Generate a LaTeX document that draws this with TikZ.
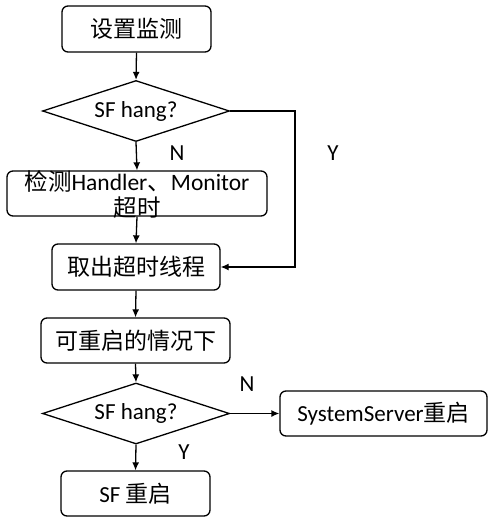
\documentclass[tikz,border=0pt]{standalone}
\usepackage{fontspec}
\setmainfont{Carlito}
\newfontfamily\cjk{Noto Sans CJK SC}
\usetikzlibrary{shapes.geometric,arrows.meta}
\begin{document}
\begin{tikzpicture}[x=1pt,y=-1pt,
  every node/.style={font=\fontsize{23}{28}\selectfont, inner sep=0pt},
  box/.style={draw, rounded corners=6pt, line width=1.3pt},
  dec/.style={draw, diamond, shape aspect=3, line width=1.3pt, minimum width=187pt, minimum height=61pt},
  arr/.style={line width=1.3pt, -{Latex[length=8pt,width=7pt]}},
  lab/.style={font=\fontsize{23}{28}\selectfont}]
\useasboundingbox (0,0) rectangle (494,521);
\node[box, minimum width=149pt, minimum height=46pt] (b1) at (136.5,29) {\cjk 设置监测};
\node[dec] (d1) at (136,111) {SF hang?};
\node[box, minimum width=260pt, minimum height=45pt,
  label={[align=center, font=\fontsize{23.5}{26}\selectfont, yshift=-1pt]center:{\cjk 检测}Handler{\cjk 、}Monitor\\{\cjk 超时}}] (b2) at (137,193.5) {};
\node[box, minimum width=168pt, minimum height=46pt] (b3) at (136,267) {\cjk 取出超时线程};
\node[box, minimum width=189pt, minimum height=45pt] (b4) at (135.5,340.5) {\cjk 可重启的情况下};
\node[dec] (d2) at (136,413.5) {SF hang?};
\node[box, minimum width=207pt, minimum height=45pt] (b5) at (383.5,413.5) {SystemServer{\cjk 重启}};
\node[box, minimum width=149pt, minimum height=45pt] (b6) at (135.5,493.5) {SF {\cjk 重启}};
\coordinate (c1) at (295,111);
\draw[arr] (b1.south) -- (d1.north);
\draw[arr] (d1.south) -- (b2.north);
\draw[arr] (b2.south) -- (b3.north);
\draw[arr] (b3.south) -- (b4.north);
\draw[arr] (b4.south) -- (d2.north);
\draw[arr] (d2.south) -- (b6.north);
\draw[arr] (d2.east) -- (b5.west);
\draw[arr] (d1.east) -- (c1) |- (b3.east);
\node[lab] (ln1) at (177,153) {N};
\node[lab] (ly1) at (333,153) {Y};
\node[lab] (ln2) at (247,384) {N};
\node[lab] (ly2) at (184,452) {Y};
\end{tikzpicture}
\end{document}
